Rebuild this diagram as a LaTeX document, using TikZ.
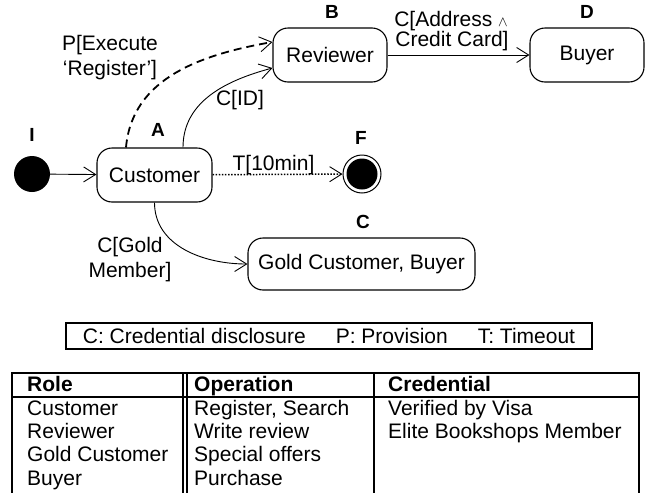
\documentclass[tikz,border=0pt]{standalone}
\usepackage{fontspec}
\setmainfont{Liberation Sans}
\usetikzlibrary{arrows.meta}
\begin{document}
\begin{tikzpicture}[x=1pt,y=1pt,
  every node/.style={font=\fontsize{21}{24}\selectfont, inner sep=0pt},
  state/.style={draw, line width=1.1pt, rounded corners=15pt, minimum height=54pt},
  tag/.style={font=\fontsize{19}{22}\selectfont\bfseries},
  lbl/.style={anchor=base},
  cell/.style={anchor=base west},
  head/.style={anchor=base west, font=\fontsize{21}{24}\selectfont\bfseries},
  trans/.style={line width=0.9pt, -{Straight Barb[length=12pt,width=15pt,line width=0.9pt]}},
  rule/.style={line width=1.1pt}
]
\useasboundingbox (0,0) rectangle (654,-493);

% ---- states ----
\node[circle, fill=black, minimum size=36pt] (init) at (32,-174) {};
\node[state, minimum width=115pt] (cust) at (154.5,-175) {Customer};
\node[state, minimum width=114pt] (rev) at (330,-55) {Reviewer};
\node[state, minimum width=114pt] (buyer) at (587,-55) {Buyer};
\node[state, minimum width=227pt, minimum height=52pt] (gold) at (361.5,-264) {Gold Customer, Buyer};
\node[circle, draw, fill=white, line width=1pt, minimum size=38pt] (fin) at (362,-174) {};
\fill (fin.center) circle (15.5pt);

% ---- state tags ----
\node[tag] (tI) at (32,-135) {I};
\node[tag] (tA) at (158,-130) {A};
\node[tag] (tB) at (332,-12) {B};
\node[tag] (tD) at (587,-12) {D};
\node[tag] (tF) at (361,-138) {F};
\node[tag] (tC) at (363,-222) {C};

% ---- transitions ----
\draw[trans] (init) -- (cust);
\draw[trans, line width=1.5pt, dash pattern=on 1.5pt off 1.6pt] (cust) -- (fin);
\draw[trans] (rev) -- (buyer);
\draw[trans] ([xshift=28.5pt]cust.north) to[out=90,in=195] ([yshift=-13pt]rev.west);
\draw[trans, line width=1.8pt, dash pattern=on 8pt off 5pt]
  ([xshift=-28.5pt]cust.north) to[out=85,in=190] ([yshift=13pt]rev.west);
\draw[trans] (cust.south) to[out=-90,in=180] (gold.west);

% ---- transition labels ----
\node[lbl] (pl1) at (110,-50) {P[Execute};
\node[lbl] (pl2) at (110,-75) {‘Register’]};
\node[lbl] (idl) at (240,-105.5) {C[ID]};
\node[lbl] (tl) at (273.5,-170) {T[10min]};
\node[lbl] (al1) at (451,-26) {C[Address $\scriptstyle\wedge$};
\node[lbl] (al2) at (452,-46.5) {Credit Card]};
\node[lbl] (gl1) at (130,-252) {C[Gold};
\node[lbl] (gl2) at (130,-277) {Member]};

% ---- legend ----
\node[draw, line width=1.1pt, minimum width=526pt, minimum height=26pt] (legend) at (329,-336)
  {C: Credential disclosure\hspace{30pt}P: Provision\hspace{30pt}T: Timeout};

% ---- role table ----
\draw[rule] (12,-493) -- (12,-373) -- (639,-373) -- (639,-493);
\draw[rule] (12,-397) -- (639,-397);
\draw[rule] (183,-373) -- (183,-493);
\draw[rule] (187,-373) -- (187,-493);
\draw[rule] (374,-373) -- (374,-493);

\node[head] (h1) at (27,-391.5) {Role};
\node[head] (h2) at (194,-391.5) {Operation};
\node[head] (h3) at (388,-391.5) {Credential};

\node[cell] (r11) at (27,-415) {Customer};
\node[cell] (r21) at (27,-438.3) {Reviewer};
\node[cell] (r31) at (27,-461.7) {Gold Customer};
\node[cell] (r41) at (27,-485) {Buyer};

\node[cell] (r12) at (194,-415) {Register, Search};
\node[cell] (r22) at (194,-438.3) {Write review};
\node[cell] (r32) at (194,-461.7) {Special offers};
\node[cell] (r42) at (194,-485) {Purchase};

\node[cell] (r13) at (388,-415) {Verified by Visa};
\node[cell] (r23) at (388,-438.3) {Elite Bookshops Member};
\end{tikzpicture}
\end{document}
